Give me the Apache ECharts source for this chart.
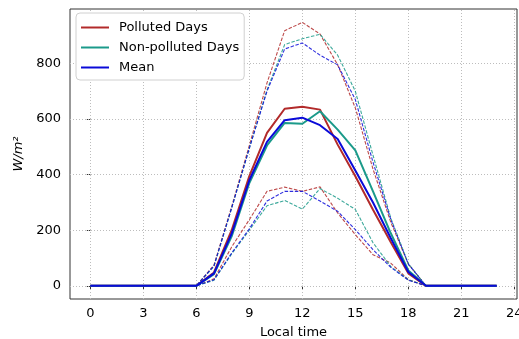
<!DOCTYPE html>
<html>
<head>
<meta charset="utf-8">
<script src="https://cdn.jsdelivr.net/npm/echarts@6/dist/echarts.min.js"></script>
<style>html,body{margin:0;padding:0;background:#fff}#c{width:519px;height:339px}</style>
</head>
<body>
<div id="c"></div>
<script>
var hours = [0,1,2,3,4,5,6,7,8,9,10,11,12,13,14,15,16,17,18,19,20,21,22,23];
var xTicks = [0,3,6,9,12,15,18,21,24];
var yTicks = [0,200,400,600,800];

var polluted      = [0,0,0,0,0,0,0,48,200,395,550,637,644,634,508,394,274,158,45,0,0,0,0,0];
var nonPolluted   = [0,0,0,0,0,0,0,42,178,370,505,586,583,628,562,487,340,190,55,0,0,0,0,0];
var meanAll       = [0,0,0,0,0,0,0,45,188,380,518,596,605,578,528,415,300,172,50,0,0,0,0,0];

var pollutedUp    = [0,0,0,0,0,0,0,75,285,505,730,918,948,906,795,640,420,230,78,0,0,0,0,0];
var nonPollutedUp = [0,0,0,0,0,0,0,70,280,495,705,868,889,905,830,700,470,245,80,0,0,0,0,0];
var meanUp        = [0,0,0,0,0,0,0,72,280,495,700,852,874,830,795,670,445,240,78,0,0,0,0,0];

var pollutedLo    = [0,0,0,0,0,0,0,25,140,238,340,355,340,356,262,184,112,82,22,0,0,0,0,0];
var nonPollutedLo = [0,0,0,0,0,0,0,20,115,200,288,307,276,350,315,275,155,70,22,0,0,0,0,0];
var meanLo        = [0,0,0,0,0,0,0,22,118,205,305,340,340,305,268,202,130,67,20,0,0,0,0,0];

var RED = '#b22a2a', TEAL = '#1b9a8a', BLUE = '#0a0ad8';

function pairs(arr){ return hours.map(function(h,i){ return [h, arr[i]]; }); }
function solid(name, arr, color){
  return {name:name, type:'line', data:pairs(arr), symbol:'none', z:3,
    lineStyle:{color:color, width:2}, itemStyle:{color:color}};
}
function dashed(name, arr, color){
  return {name:name, type:'line', data:pairs(arr), symbol:'none', z:2,
    lineStyle:{color:color, width:1.1, type:[3.5,1.6], opacity:0.85}, itemStyle:{color:color}};
}

var gridLineStyle = {color:'#bdbdbd', type:[1,2], width:1};
var gridSeries = {
  name:'grid', type:'line', data:[], silent:true, z:1,
  markLine:{
    silent:true, symbol:['none','none'], animation:false, z:1,
    label:{show:false}, lineStyle:gridLineStyle, emphasis:{disabled:true},
    data: xTicks.map(function(v){ return {xAxis:v}; })
      .concat(yTicks.map(function(v){ return {yAxis:v}; }))
  }
};

var chart = echarts.init(document.getElementById('c'), null, {renderer:'canvas'});
chart.setOption({
  animation:false,
  textStyle:{fontFamily:'DejaVu Sans'},
  grid:{left:70, right:2, top:9, bottom:40, containLabel:false, outerBoundsMode:'none',
        show:true, borderColor:'#333', borderWidth:1, backgroundColor:'transparent'},
  legend:{
    z:100,
    data:[{name:'Polluted Days', icon:'rect'},{name:'Non-polluted Days', icon:'rect'},{name:'Mean', icon:'rect'}],
    orient:'vertical', left:76, top:13,
    itemWidth:28, itemHeight:2, itemGap:5,
    backgroundColor:'#fff', borderColor:'#d0d0d0', borderWidth:1, borderRadius:4,
    padding:[7,5,5,5],
    textStyle:{fontSize:13, color:'#000', padding:[0,0,0,5], lineHeight:15, fontFamily:'DejaVu Sans'}
  },
  xAxis:{
    type:'value', min:-1.15, max:24.15,
    name:'Local time', nameLocation:'middle', nameGap:27,
    nameTextStyle:{fontSize:13, color:'#000', fontFamily:'DejaVu Sans'},
    axisLine:{show:false},
    axisTick:{show:true, inside:false, length:3.5, customValues:xTicks, lineStyle:{color:'#333'}},
    axisLabel:{customValues:xTicks, fontSize:13, color:'#000', margin:8, fontFamily:'DejaVu Sans'},
    splitLine:{show:false}
  },
  yAxis:{
    type:'value', min:-47.4, max:996,
    name:'W/m²', nameLocation:'middle', nameGap:42, nameRotate:90,
    nameTextStyle:{fontSize:13, color:'#000', fontStyle:'italic', fontFamily:'DejaVu Sans'},
    axisLine:{show:false},
    axisTick:{show:true, inside:false, length:3.5, customValues:yTicks, lineStyle:{color:'#333'}},
    axisLabel:{customValues:yTicks, fontSize:13, color:'#000', margin:9, fontFamily:'DejaVu Sans'},
    splitLine:{show:false}
  },
  series:[
    gridSeries,
    dashed('Polluted +', pollutedUp, RED),
    dashed('Polluted -', pollutedLo, RED),
    dashed('Non-polluted +', nonPollutedUp, TEAL),
    dashed('Non-polluted -', nonPollutedLo, TEAL),
    dashed('Mean +', meanUp, BLUE),
    dashed('Mean -', meanLo, BLUE),
    solid('Polluted Days', polluted, RED),
    solid('Non-polluted Days', nonPolluted, TEAL),
    solid('Mean', meanAll, BLUE)
  ]
});
</script>
</body>
</html>
